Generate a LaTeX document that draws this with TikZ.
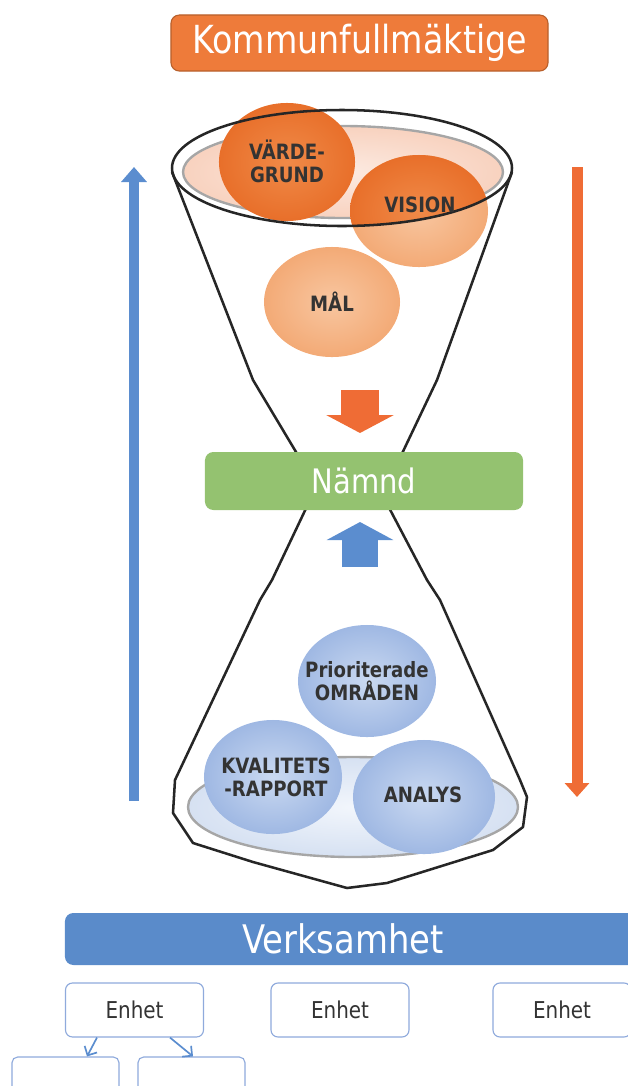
\documentclass[tikz,border=0pt]{standalone}
\usepackage{fontspec}
\setmainfont{DejaVu Sans}
\newfontfamily\narrowsans[FakeStretch=0.86]{DejaVu Sans}
\usetikzlibrary{arrows.meta,shapes.geometric,calc}

\definecolor{kforange}{HTML}{EE7B3A}
\definecolor{kfborder}{HTML}{B8602C}
\definecolor{arroworange}{HTML}{EF6C35}
\definecolor{orangein}{HTML}{F08A48}
\definecolor{orangeout}{HTML}{E86F2A}
\definecolor{lightin}{HTML}{F8C6A0}
\definecolor{lightout}{HTML}{F3AA76}
\definecolor{pinkin}{HTML}{FCEAE1}
\definecolor{pinkout}{HTML}{F8D2BF}
\definecolor{namndgreen}{HTML}{94C270}
\definecolor{arrowblue}{HTML}{5B8DCF}
\definecolor{bluein}{HTML}{CAD9F1}
\definecolor{blueout}{HTML}{9FB8E3}
\definecolor{platein}{HTML}{F2F6FC}
\definecolor{plateout}{HTML}{D6E1F2}
\definecolor{verkblue}{HTML}{5A8BCA}
\definecolor{enhetborder}{HTML}{8FAADC}
\definecolor{labelgray}{HTML}{333333}

\tikzset{
  glass/.style={line width=1.8pt,draw=black!85,line join=round},
  rim/.style={line width=1.7pt,draw=black!35},
  ball/.style={ellipse,inner sep=0pt,align=center,text=labelgray,
    font=\narrowsans\bfseries\fontsize{15}{16.5}\selectfont},
  darkball/.style={ball,shade,inner color=orangein,outer color=orangeout},
  lightball/.style={ball,shade,inner color=lightin,outer color=lightout},
  blueball/.style={ball,shade,inner color=bluein,outer color=blueout},
  titlebox/.style={rounded corners=6pt,inner sep=0pt,text=white,
    font=\narrowsans\fontsize{27.5}{30}\selectfont},
  enhetbox/.style={draw=enhetborder,line width=0.8pt,rounded corners=5pt,fill=white,
    minimum width=3.45cm,minimum height=1.35cm,text=labelgray,
    font=\narrowsans\fontsize{16.5}{18}\selectfont},
  subbox/.style={draw=enhetborder,line width=0.8pt,rounded corners=4pt,fill=white,
    minimum width=2.675cm,minimum height=1.35cm},
  enharrow/.style={draw=arrowblue,line width=1.2pt,-{Straight Barb[length=5pt,width=10pt]}}
}

\begin{document}
\begin{tikzpicture}[x=0.025cm,y=-0.025cm]
\useasboundingbox (0,0) rectangle (628,1086);

\coordinate (upbot) at (134,801);
\coordinate (uptop) at (134,167);
\coordinate (downtop) at (577,167);
\coordinate (downbot) at (577,797);
\draw[arrowblue,line width=0.25cm,-{Triangle[length=0.375cm,width=0.625cm]}] (upbot) -- (uptop);
\draw[arroworange,line width=0.275cm,-{Triangle[length=0.35cm,width=0.6cm]}] (downtop) -- (downbot);

\shade[inner color=pinkin,outer color=pinkout] (343,172) ellipse [x radius=160,y radius=46];
\draw[rim] (343,172) ellipse [x radius=160,y radius=46];

\node[darkball,minimum width=3.4cm,minimum height=2.95cm] (varde) at (287,162) {};
\node[lightball,minimum width=3.45cm,minimum height=2.8cm] (vision) at (419,211) {};
\begin{scope}
\clip (342,168) ellipse [x radius=170,y radius=58];
\shade[inner color=orangein,outer color=orangeout] (vision.center) ellipse [x radius=69,y radius=56];
\end{scope}
\node[lightball,minimum width=3.4cm,minimum height=2.75cm] (mal) at (332,302) {};
\draw[glass] (342,168) ellipse [x radius=170,y radius=58];
\node[ball] (vardelabel) at (287,161) {VÄRDE-\\GRUND};
\node[ball] (visionlabel) at (420,205) {VISION};
\node[ball] (mallabel) at (mal) {MÅL};

\draw[glass] (172,172) -- (253,380) -- (302,462);
\draw[glass] (512,172) -- (437,380) -- (398,462);

\shade[inner color=platein,outer color=plateout] (353,807) ellipse [x radius=165,y radius=50];
\draw[rim] (353,807) ellipse [x radius=165,y radius=50];
\draw[glass] (310,500) -- (272,580) -- (260,600) -- (175,780) -- (173,813) -- (193,843)
  -- (253,862) -- (347,888) -- (387,883) -- (493,850) -- (523,827) -- (527,797)
  -- (520,780) -- (440,600) -- (427,580) -- (385,500);

\node[blueball,minimum width=3.45cm,minimum height=2.8cm] (prio) at (367,681) {};
\node[ball] (priolabel) at (prio) {Prioriterade\\OMRÅDEN};
\node[blueball,minimum width=3.45cm,minimum height=2.85cm] (kval) at (273,777) {};
\node[ball] (kvallabel) at (276,777) {KVALITETS\\-RAPPORT};
\node[blueball,minimum width=3.55cm,minimum height=2.85cm] (analys) at (424,797) {};
\node[ball] (analyslabel) at (423,795) {ANALYS};

\coordinate (dntop) at (360,390);
\coordinate (dntip) at (360,433);
\draw[arroworange,line width=0.95cm,-{Triangle[length=0.45cm,width=1.675cm]}] (dntop) -- (dntip);
\coordinate (upfoot) at (360,567);
\coordinate (uptip) at (360,522);
\draw[arrowblue,line width=0.875cm,-{Triangle[length=0.45cm,width=1.65cm]}] (upfoot) -- (uptip);

\node[titlebox,fill=namndgreen,minimum width=7.95cm,minimum height=1.45cm,
  font=\narrowsans\fontsize{24}{28}\selectfont] (namnd) at (364,481) {Nämnd};
\node[titlebox,fill=kforange,draw=kfborder,line width=0.8pt,minimum width=9.425cm,
  minimum height=1.4cm] (kf) at (359.5,43) {Kommunfullmäktige};

\node[titlebox,fill=verkblue,minimum width=14.375cm,minimum height=1.3cm] (verk) at (352.5,939) {};
\node[titlebox,font=\narrowsans\fontsize{28}{30}\selectfont] (verklabel) at (343,939) {Verksamhet};

\node[enhetbox] (enhet1) at (134.5,1010) {Enhet};
\node[enhetbox] (enhet2) at (340,1010) {Enhet};
\node[enhetbox] (enhet3) at (562,1010) {Enhet};
\node[subbox] (suba) at (65.5,1084) {};
\node[subbox] (subb) at (191.5,1084) {};
\draw[enharrow] ($(enhet1.south)+(-37.5,0)$) -- ($(suba.north)+(21.5,0)$);
\draw[enharrow] ($(enhet1.south)+(35.5,0)$) -- ($(subb.north)+(1.5,0)$);
\end{tikzpicture}
\end{document}
